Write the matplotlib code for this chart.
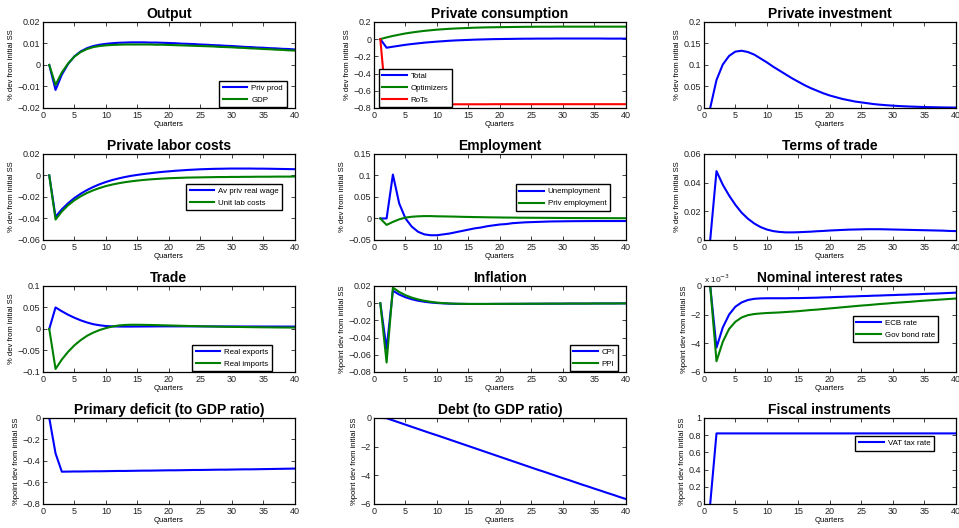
#### Impulse responses to a VAT shock: 4x3 panel grid

import numpy as np
import matplotlib
matplotlib.use("Agg")
import matplotlib.pyplot as plt
from matplotlib.ticker import FuncFormatter

plt.rcParams["font.family"] = ["Liberation Sans", "DejaVu Sans"]

quarters = list(range(1, 41))

#### Series

priv_prod = [0, -0.0116, -0.0045, 0.0005, 0.0040, 0.0063, 0.0078, 0.0088, 0.0094, 0.0098,
             0.0101, 0.0103, 0.0104, 0.0105, 0.0105, 0.0105, 0.0104, 0.0104, 0.0103, 0.0102,
             0.0101, 0.0099, 0.0098, 0.0097, 0.0095, 0.0094, 0.0092, 0.0091, 0.0089, 0.0088,
             0.0086, 0.0084, 0.0083, 0.0081, 0.0080, 0.0078, 0.0077, 0.0075, 0.0074, 0.0072]
gdp = [0, -0.0093, -0.0035, 0.0007, 0.0039, 0.0060, 0.0074, 0.0083, 0.0088, 0.0091,
       0.0093, 0.0094, 0.0095, 0.0095, 0.0095, 0.0095, 0.0095, 0.0094, 0.0094, 0.0093,
       0.0092, 0.0091, 0.0090, 0.0089, 0.0088, 0.0087, 0.0086, 0.0084, 0.0083, 0.0082,
       0.0080, 0.0079, 0.0077, 0.0076, 0.0074, 0.0073, 0.0071, 0.0070, 0.0068, 0.0067]

cons_total = [0, -0.100, -0.088, -0.077, -0.066, -0.057, -0.049, -0.041, -0.035, -0.029,
              -0.024, -0.019, -0.015, -0.012, -0.009, -0.006, -0.004, -0.002, 0.000, 0.001,
              0.002, 0.003, 0.004, 0.005, 0.005, 0.006, 0.006, 0.006, 0.007, 0.007,
              0.007, 0.007, 0.007, 0.007, 0.007, 0.007, 0.006, 0.006, 0.006, 0.006]
cons_opt = [0, 0.020, 0.037, 0.052, 0.066, 0.077, 0.087, 0.096, 0.103, 0.110,
            0.115, 0.120, 0.124, 0.127, 0.130, 0.133, 0.135, 0.137, 0.138, 0.139,
            0.140, 0.141, 0.142, 0.143, 0.143, 0.144, 0.144, 0.144, 0.145, 0.145,
            0.145, 0.145, 0.145, 0.145, 0.145, 0.145, 0.145, 0.145, 0.145, 0.145]
cons_rot = [0, -0.800, -0.785, -0.776, -0.770, -0.766, -0.763, -0.761, -0.760, -0.759,
            -0.758, -0.758, -0.757, -0.757, -0.757, -0.757, -0.757, -0.757, -0.756, -0.756,
            -0.756, -0.756, -0.756, -0.756, -0.756, -0.756, -0.756, -0.756, -0.756, -0.756,
            -0.756, -0.756, -0.756, -0.756, -0.756, -0.756, -0.756, -0.756, -0.756, -0.756]

investment = [0, 0.065, 0.101, 0.121, 0.131, 0.133, 0.130, 0.124, 0.115, 0.106,
              0.096, 0.087, 0.078, 0.069, 0.061, 0.053, 0.046, 0.040, 0.034, 0.029,
              0.025, 0.021, 0.018, 0.015, 0.013, 0.011, 0.009, 0.0076, 0.0064, 0.0054,
              0.0045, 0.0038, 0.0032, 0.0027, 0.0022, 0.0019, 0.0016, 0.0013, 0.0011, 0.0009]

real_wage = [0, -0.0385, -0.0315, -0.0258, -0.0210, -0.0170, -0.0136, -0.0107, -0.0082, -0.0061,
             -0.0043, -0.0028, -0.0015, -0.0004, 0.0005, 0.0013, 0.0020, 0.0027, 0.0033, 0.0038,
             0.0043, 0.0047, 0.0051, 0.0054, 0.0057, 0.0059, 0.0061, 0.0062, 0.0063, 0.0064,
             0.0064, 0.0064, 0.0064, 0.0063, 0.0063, 0.0062, 0.0061, 0.0060, 0.0059, 0.0058]
unit_lab = [0, -0.0410, -0.0335, -0.0277, -0.0231, -0.0194, -0.0163, -0.0138, -0.0117, -0.0099,
            -0.0085, -0.0073, -0.0063, -0.0055, -0.0048, -0.0042, -0.0037, -0.0033, -0.0029, -0.0026,
            -0.0024, -0.0022, -0.0020, -0.0019, -0.0018, -0.0017, -0.0016, -0.0015, -0.0015, -0.0014,
            -0.0014, -0.0013, -0.0013, -0.0012, -0.0012, -0.0012, -0.0011, -0.0011, -0.0011, -0.0010]

unemployment = [0, 0, 0.102, 0.035, 0.000, -0.019, -0.031, -0.037, -0.039, -0.039,
                -0.037, -0.035, -0.032, -0.029, -0.026, -0.023, -0.021, -0.018, -0.016, -0.014,
                -0.013, -0.011, -0.010, -0.009, -0.0085, -0.008, -0.0075, -0.0070, -0.0068, -0.0066,
                -0.0064, -0.0063, -0.0062, -0.0061, -0.0060, -0.0060, -0.0060, -0.0060, -0.0060, -0.0060]
priv_empl = [0, -0.015, -0.008, -0.002, 0.002, 0.004, 0.005, 0.0055, 0.0055, 0.0050,
             0.0048, 0.0045, 0.0042, 0.0038, 0.0035, 0.0032, 0.0030, 0.0027, 0.0025, 0.0023,
             0.0021, 0.0020, 0.0018, 0.0017, 0.0016, 0.0015, 0.0014, 0.0013, 0.0012, 0.0011,
             0.0010, 0.0010, 0.0009, 0.0008, 0.0008, 0.0007, 0.0007, 0.0006, 0.0006, 0.0005]

tot = [0, 0.048, 0.0385, 0.031, 0.0245, 0.019, 0.0148, 0.0115, 0.0090, 0.0073,
       0.0062, 0.0056, 0.0053, 0.0053, 0.0054, 0.0056, 0.0058, 0.0061, 0.0063, 0.0066,
       0.0068, 0.0070, 0.0072, 0.0073, 0.0074, 0.0075, 0.0075, 0.0075, 0.0074, 0.0073,
       0.0072, 0.0071, 0.0070, 0.0069, 0.0068, 0.0067, 0.0066, 0.0065, 0.0063, 0.0062]

exports = [0, 0.050, 0.041, 0.033, 0.026, 0.020, 0.015, 0.011, 0.0085, 0.0068,
           0.0060, 0.0056, 0.0055, 0.0055, 0.0056, 0.0057, 0.0058, 0.0059, 0.0060, 0.0060,
           0.0060, 0.0060, 0.0060, 0.0060, 0.0060, 0.0059, 0.0059, 0.0059, 0.0058, 0.0058,
           0.0058, 0.0057, 0.0057, 0.0057, 0.0056, 0.0056, 0.0056, 0.0055, 0.0055, 0.0055]
imports = [0, -0.093, -0.071, -0.053, -0.038, -0.026, -0.016, -0.0085, -0.0025, 0.0020,
           0.0055, 0.0080, 0.0092, 0.0097, 0.0097, 0.0095, 0.0092, 0.0089, 0.0085, 0.0081,
           0.0077, 0.0073, 0.0069, 0.0066, 0.0062, 0.0059, 0.0056, 0.0053, 0.0050, 0.0048,
           0.0046, 0.0044, 0.0042, 0.0040, 0.0038, 0.0037, 0.0035, 0.0034, 0.0033, 0.0032]

cpi = [0, -0.053, 0.0145, 0.0100, 0.0068, 0.0045, 0.0028, 0.0016, 0.0007, 0.0001,
       -0.0003, -0.0006, -0.0008, -0.0009, -0.0010, -0.0010, -0.0010, -0.0010, -0.0009, -0.0009,
       -0.0009, -0.0008, -0.0008, -0.0008, -0.0007, -0.0007, -0.0007, -0.0006, -0.0006, -0.0006,
       -0.0005, -0.0005, -0.0005, -0.0005, -0.0004, -0.0004, -0.0004, -0.0004, -0.0003, -0.0003]
ppi = [0, -0.069, 0.0180, 0.0130, 0.0092, 0.0064, 0.0043, 0.0027, 0.0015, 0.0006,
       0.0000, -0.0004, -0.0007, -0.0008, -0.0009, -0.0009, -0.0009, -0.0009, -0.0009, -0.0008,
       -0.0008, -0.0008, -0.0008, -0.0007, -0.0007, -0.0007, -0.0006, -0.0006, -0.0006, -0.0006,
       -0.0005, -0.0005, -0.0005, -0.0005, -0.0004, -0.0004, -0.0004, -0.0004, -0.0003, -0.0003]

ecb_rate = [0, -4.30e-3, -2.90e-3, -2.00e-3, -1.45e-3, -1.15e-3, -0.98e-3, -0.90e-3, -0.87e-3, -0.86e-3,
            -0.86e-3, -0.86e-3, -0.86e-3, -0.85e-3, -0.85e-3, -0.84e-3, -0.83e-3, -0.82e-3, -0.80e-3, -0.79e-3,
            -0.77e-3, -0.76e-3, -0.74e-3, -0.73e-3, -0.71e-3, -0.70e-3, -0.68e-3, -0.67e-3, -0.65e-3, -0.64e-3,
            -0.62e-3, -0.61e-3, -0.59e-3, -0.58e-3, -0.56e-3, -0.54e-3, -0.53e-3, -0.51e-3, -0.49e-3, -0.47e-3]
gov_bond = [0, -5.25e-3, -3.90e-3, -3.00e-3, -2.50e-3, -2.20e-3, -2.04e-3, -1.96e-3, -1.92e-3, -1.89e-3,
            -1.87e-3, -1.85e-3, -1.82e-3, -1.79e-3, -1.76e-3, -1.72e-3, -1.68e-3, -1.65e-3, -1.61e-3, -1.57e-3,
            -1.53e-3, -1.49e-3, -1.45e-3, -1.41e-3, -1.37e-3, -1.34e-3, -1.30e-3, -1.26e-3, -1.23e-3, -1.19e-3,
            -1.16e-3, -1.13e-3, -1.10e-3, -1.06e-3, -1.03e-3, -1.00e-3, -0.97e-3, -0.94e-3, -0.91e-3, -0.88e-3]

deficit = [0, -0.330, -0.500, -0.499, -0.498, -0.498, -0.497, -0.496, -0.496, -0.495,
           -0.494, -0.493, -0.493, -0.492, -0.491, -0.490, -0.490, -0.489, -0.488, -0.487,
           -0.487, -0.486, -0.485, -0.484, -0.484, -0.483, -0.482, -0.481, -0.481, -0.480,
           -0.479, -0.478, -0.478, -0.477, -0.476, -0.475, -0.474, -0.473, -0.472, -0.471]

debt = [0, -0.02, -0.17, -0.32, -0.47, -0.62, -0.77, -0.92, -1.07, -1.21,
        -1.36, -1.51, -1.66, -1.81, -1.96, -2.11, -2.26, -2.41, -2.56, -2.71,
        -2.86, -3.01, -3.16, -3.31, -3.46, -3.61, -3.75, -3.90, -4.05, -4.20,
        -4.34, -4.49, -4.64, -4.78, -4.93, -5.07, -5.22, -5.36, -5.51, -5.65]

vat_rate = [0] + [0.82] * 39

#### Layout

BLUE, GREEN, RED = "#0000ff", "#008000", "#ff0000"
DEV = "% dev from initial SS"
PDEV = "%point dev from initial SS"

col_left = [0.0448, 0.390, 0.734]
row_bottom = [0.7955, 0.5455, 0.2955, 0.0455]
ax_w, ax_h = 0.2625, 0.163


def tick_fmt(scale=1.0):
    def f(v, pos):
        v = v * scale
        if abs(v) < 1e-12:
            return "0"
        return ("%g" % v).replace("-", "\u2212")
    return FuncFormatter(f)


def panel(r, c, title, ylabel, ylim, ystep, series, legend=None, scale=1.0):
    ax = fig.add_axes([col_left[c], row_bottom[r], ax_w, ax_h])
    for vals, color, label in series:
        ax.plot(quarters, vals, color=color, lw=1.5, label=label)
    ax.set_xlim(0, 40)
    ax.set_ylim(*ylim)
    ax.set_xticks(range(0, 41, 5))
    ax.set_yticks(np.arange(ylim[0], ylim[1] + ystep / 2, ystep))
    ax.yaxis.set_major_formatter(tick_fmt(scale))
    ax.tick_params(direction="in", top=True, right=True, length=3, width=0.6,
                   labelsize=6.5, pad=2, colors="#222222")
    for s in ax.spines.values():
        s.set_linewidth(0.9)
    ax.set_title(title, fontsize=10, fontweight="bold", pad=3)
    ax.set_ylabel(ylabel, fontsize=5.5, labelpad=2)
    ax.set_xlabel("Quarters", fontsize=5.5, labelpad=1)
    if legend is not None:
        loc, anchor = legend
        lg = ax.legend(loc=loc, bbox_to_anchor=anchor, borderaxespad=0, fontsize=5.7,
                       fancybox=False, framealpha=1, edgecolor="black",
                       handlelength=3.1, handletextpad=0.5, labelspacing=0.55,
                       borderpad=0.45)
        lg.get_frame().set_linewidth(1.0)
    return ax


fig = plt.figure(figsize=(9.59, 5.28), dpi=100)

panel(0, 0, "Output", DEV, (-0.02, 0.02), 0.01,
      [(priv_prod, BLUE, "Priv prod"), (gdp, GREEN, "GDP")],
      ("lower right", (0.968, 0.008)))
panel(0, 1, "Private consumption", DEV, (-0.8, 0.2), 0.2,
      [(cons_total, BLUE, "Total"), (cons_opt, GREEN, "Optimizers"), (cons_rot, RED, "RoTs")],
      ("lower left", (0.019, 0.008)))
panel(0, 2, "Private investment", DEV, (0, 0.2), 0.05,
      [(investment, BLUE, None)])

panel(1, 0, "Private labor costs", DEV, (-0.06, 0.02), 0.02,
      [(real_wage, BLUE, "Av priv real wage"), (unit_lab, GREEN, "Unit lab costs")],
      ("upper right", (0.951, 0.655)))
panel(1, 1, "Employment", DEV, (-0.05, 0.15), 0.05,
      [(unemployment, BLUE, "Unemployment"), (priv_empl, GREEN, "Priv employment")],
      ("upper right", (0.937, 0.647)))
panel(1, 2, "Terms of trade", DEV, (0, 0.06), 0.02,
      [(tot, BLUE, None)])

panel(2, 0, "Trade", DEV, (-0.1, 0.1), 0.05,
      [(exports, BLUE, "Real exports"), (imports, GREEN, "Real imports")],
      ("lower right", (0.91, 0.008)))
panel(2, 1, "Inflation", PDEV, (-0.08, 0.02), 0.02,
      [(cpi, BLUE, "CPI"), (ppi, GREEN, "PPI")],
      ("lower right", (0.971, 0.008)))
ax = panel(2, 2, "Nominal interest rates", PDEV, (-0.006, 0), 0.002,
           [(ecb_rate, BLUE, "ECB rate"), (gov_bond, GREEN, "Gov bond rate")],
           ("upper right", (0.931, 0.655)), scale=1e3)
ax.text(0.0, 1.015, "x 10$^{-3}$", transform=ax.transAxes, fontsize=6,
        va="bottom", ha="left", color="#222222")

panel(3, 0, "Primary deficit (to GDP ratio)", PDEV, (-0.8, 0), 0.2,
      [(deficit, BLUE, None)])
panel(3, 1, "Debt (to GDP ratio)", PDEV, (-6, 0), 2,
      [(debt, BLUE, None)])
panel(3, 2, "Fiscal instruments", PDEV, (0, 1), 0.2,
      [(vat_rate, BLUE, "VAT tax rate")],
      ("upper right", (0.913, 0.79)))

fig.savefig("out.png", dpi=100)
